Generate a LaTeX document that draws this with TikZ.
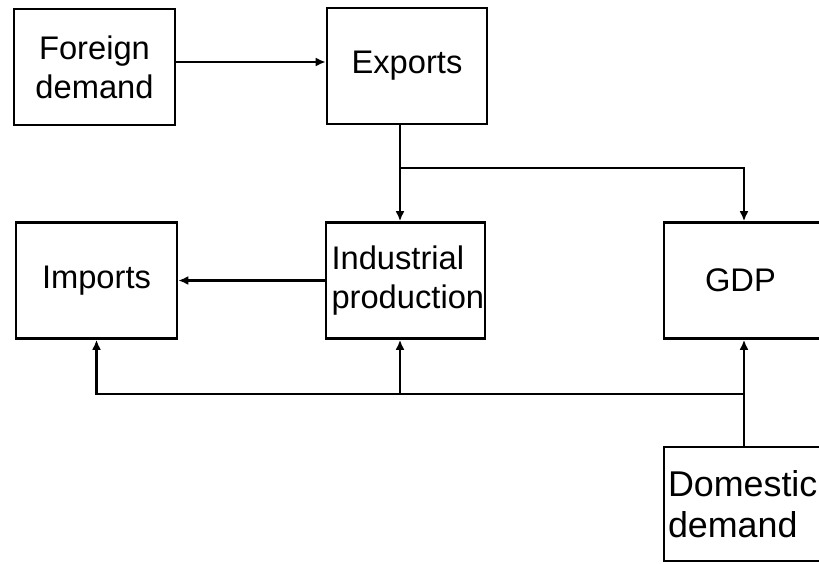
\documentclass[tikz,border=0pt]{standalone}
\usepackage{fontspec}
\setmainfont{Liberation Sans}
\usetikzlibrary{arrows.meta, positioning}

\begin{document}
\begin{tikzpicture}[x=0.02cm, y=-0.02cm,
	block/.style={draw,
	line width=1.5pt,
	minimum height=2.32cm,
	inner ysep=0pt,
	font=\fontsize{18.6}{22}\selectfont},
	link/.style={line width=1.4pt},
	arr/.style={link, -{Latex[length=2mm,width=1.8mm]}}]
	\useasboundingbox (0,0) rectangle (819,564);
	% draw rectangle nodes
	\node[block,
	text width=2.7cm,
	inner xsep=0.26cm,
	align=center] (foreign) at (94.5,67) {Foreign\\demand};
	\node[block,
	text width=2.7cm,
	inner xsep=0.25cm,
	align=center] (exports) at (407,66) {Exports};
	\node[block,
	text width=2.7cm,
	inner xsep=0.26cm,
	align=center] (imports) at (96.5,280.5) {Imports};
	\node[block,
	text width=2.96cm,
	inner xsep=0.11cm,
	align=left] (industry) at (405.5,280.5) {Industrial\\production};
	\node[block,
	text width=1.56cm,
	inner xsep=0.82cm,
	align=left] (gdp) at (744,280.5) {GDP};
	\node[block,
	minimum height=2.28cm,
	text width=3.04cm,
	inner xsep=0.08cm,
	align=left,
	font=\fontsize{20.4}{23}\selectfont] (domestic) at (744,504) {Domestic\\demand};
	% Arrows
	\coordinate (fork) at (400,168);
	\coordinate (merge) at (gdp.south |- 0,394);
	\draw[arr] (foreign.east |- 0,62) -- (exports.west |- 0,62);
	\draw[arr] (fork |- exports.south) -- (fork |- industry.north);
	\draw[arr] (fork) -| (gdp.north);
	\draw[arr] (industry.west) -- (imports.east);
	\draw[arr] (domestic.north) -- (gdp.south);
	\draw[arr] (merge) -| (imports.south);
	\draw[arr] (fork |- merge) -- (fork |- industry.south);
\end{tikzpicture}
\end{document}
